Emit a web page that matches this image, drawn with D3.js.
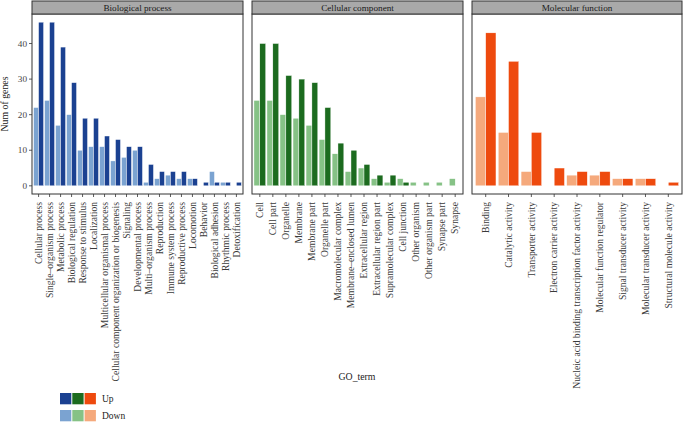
<!DOCTYPE html>
<html><head><meta charset="utf-8">
<script src="https://cdn.jsdelivr.net/npm/d3@7"></script>
<style>body{margin:0;background:#fff}svg{display:block}text{font-family:"Liberation Serif","DejaVu Serif",serif;fill:#333}</style>
</head><body><svg id="c" width="684" height="422"></svg>
<script>
const bpTerms = ["Cellular process","Single–organism process","Metabolic process","Biological regulation","Response to stimulus","Localization","Multicellular organismal process","Cellular component organization or biogenesis","Signaling","Developmental process","Multi–organism process","Reproduction","Immune system process","Reproductive process","Locomotion","Behavior","Biological adhesion","Rhythmic process","Detoxification"];
const bpUp   = [46,46,39,29,19,19,14,13,11,11,6,4,4,4,2,1,1,1,1];
const bpDown = [22,24,17,20,10,11,11,7,8,10,1,2,3,2,2,0,4,1,0];
const ccTerms = ["Cell","Cell part","Organelle","Membrane","Membrane part","Organelle part","Macromolecular complex","Membrane–enclosed lumen","Extracellular region","Extracellular region part","Supramolecular complex","Cell junction","Other organism","Other organism part","Synapse part","Synapse"];
const ccUp   = [40,40,31,30,29,22,12,10,6,3,3,1,0,0,0,0];
const ccDown = [24,24,20,19,17,13,9,4,5,2,1,2,1,1,1,2];
const mfTerms = ["Binding","Catalytic activity","Transporter activity","Electron carrier activity","Nucleic acid binding transcription factor activity","Molecular function regulator","Signal transducer activity","Molecular transducer activity","Structural molecule activity"];
const mfUp   = [43,35,15,5,4,4,2,2,1];
const mfDown = [25,15,4,0,3,3,2,2,0];
const yTicks = [0,10,20,30,40];
const panels = [
  {title:"Biological process", terms:bpTerms, up:bpUp, down:bpDown, cUp:"#1b4191", cDown:"#7ba3d1", x0:32, x1:243},
  {title:"Cellular component", terms:ccTerms, up:ccUp, down:ccDown, cUp:"#1c6b1f", cDown:"#86c286", x0:252, x1:463},
  {title:"Molecular function", terms:mfTerms, up:mfUp, down:mfDown, cUp:"#ee4a0e", cDown:"#f5a97c", x0:472, x1:682}
];
const svg = d3.select("#c");
const yMax = 46, pad = yMax*0.05;
const y = d3.scaleLinear().domain([-pad, yMax+pad]).range([194,14]);
const stripTop = 1, stripBot = 14;
const fs = 9.2, fx = 9.6;

panels.forEach((p,pi)=>{
  const n = p.terms.length;
  const x = d3.scaleLinear().domain([0.4, n+0.6]).range([p.x0, p.x1]);
  const g = svg.append("g");
  g.append("rect").attr("x",p.x0).attr("y",y.range()[1]).attr("width",p.x1-p.x0).attr("height",y.range()[0]-y.range()[1]).attr("fill","#fff");
  const bw = (x(1)-x(0))*0.45;
  const rows = p.terms.map((t,i)=>({t,i:i+1,up:p.up[i],down:p.down[i]}));
  g.selectAll(".d").data(rows.filter(d=>d.down>0)).join("rect")
    .attr("x",d=>x(d.i)-bw).attr("width",bw)
    .attr("y",d=>y(d.down)).attr("height",d=>y(0)-y(d.down))
    .attr("fill",p.cDown).attr("stroke","#fff").attr("stroke-width",0.4);
  g.selectAll(".u").data(rows.filter(d=>d.up>0)).join("rect")
    .attr("x",d=>x(d.i)).attr("width",bw)
    .attr("y",d=>y(d.up)).attr("height",d=>y(0)-y(d.up))
    .attr("fill",p.cUp).attr("stroke","#fff").attr("stroke-width",0.4);
  g.append("rect").attr("x",p.x0).attr("y",y.range()[1]).attr("width",p.x1-p.x0).attr("height",y.range()[0]-y.range()[1])
    .attr("fill","none").attr("stroke","#333").attr("stroke-width",1);
  g.append("rect").attr("x",p.x0).attr("y",stripTop).attr("width",p.x1-p.x0).attr("height",stripBot-stripTop)
    .attr("fill","#a9a9a9").attr("stroke","#333").attr("stroke-width",1);
  g.append("text").attr("x",(p.x0+p.x1)/2).attr("y",(stripTop+stripBot)/2+3).attr("text-anchor","middle")
    .attr("font-size",fs).style("fill","#1a1a1a").text(p.title);
  const xa = g.append("g").attr("transform",`translate(0,${y.range()[0]})`);
  rows.forEach(d=>{
    xa.append("line").attr("x1",x(d.i)).attr("x2",x(d.i)).attr("y1",0).attr("y2",3).attr("stroke","#333").attr("stroke-width",0.8);
    xa.append("text").attr("transform",`translate(${x(d.i)+3.3},8) rotate(-90)`).attr("text-anchor","end")
      .attr("font-size",fx).style("fill","#3a3a3a").text(d.t);
  });
  if(pi===0){
    const ya = g.append("g").attr("transform",`translate(${p.x0},0)`);
    yTicks.forEach(v=>{
      ya.append("line").attr("x1",-3).attr("x2",0).attr("y1",y(v)).attr("y2",y(v)).attr("stroke","#333").attr("stroke-width",0.8);
      ya.append("text").attr("x",-5).attr("y",y(v)+3).attr("text-anchor","end").attr("font-size",fs).style("fill","#444").text(v);
    });
  }
});
svg.append("text").attr("transform","translate(8,104) rotate(-90)").attr("text-anchor","middle").attr("font-size",fs+0.6).style("fill","#222").text("Num of genes");
svg.append("text").attr("x",357).attr("y",380).attr("text-anchor","middle").attr("font-size",fs+0.6).style("fill","#222").text("GO_term");
const legRows = [{lab:"Up",cols:panels.map(p=>p.cUp)},{lab:"Down",cols:panels.map(p=>p.cDown)}];
legRows.forEach((r,ri)=>{
  const yy = 393 + ri*17;
  r.cols.forEach((c,ci)=>{
    svg.append("rect").attr("x",60+ci*12.3).attr("y",yy).attr("width",11.3).attr("height",11.3).attr("fill",c);
  });
  svg.append("text").attr("x",102).attr("y",yy+8.5).attr("font-size",fs+0.3).style("fill","#222").text(r.lab);
});
</script></body></html>
